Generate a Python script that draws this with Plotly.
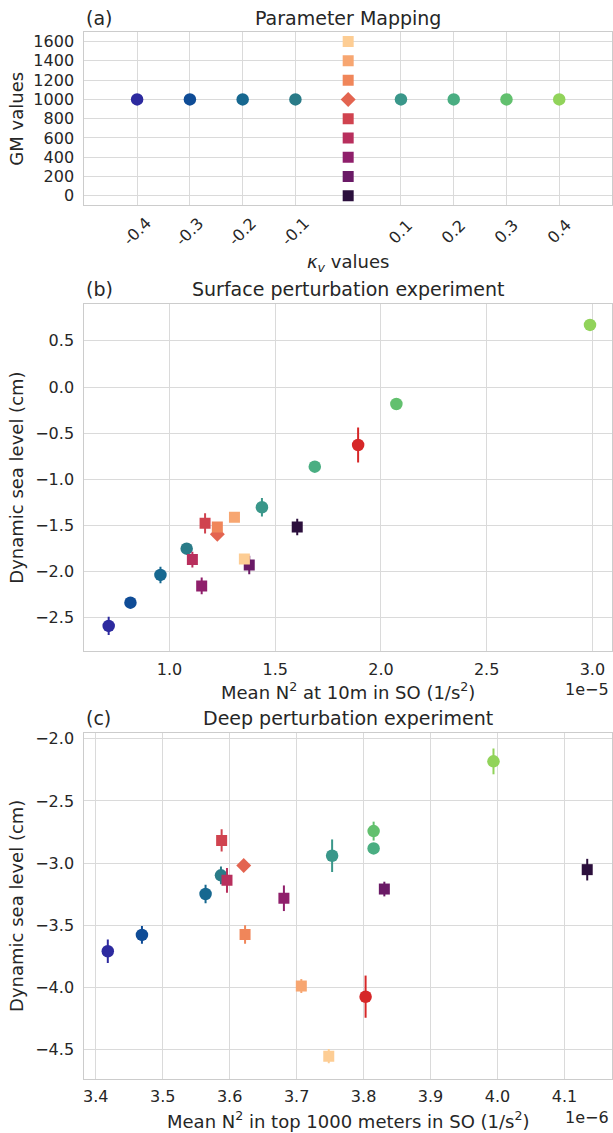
import plotly.graph_objects as go

W, H = 613, 1133

# ---------------- data ----------------
kappa_vals = [-0.4, -0.3, -0.2, -0.1, 0.1, 0.2, 0.3, 0.4]
kappa_colors = ["#2d2a9f", "#0f4c96", "#176890", "#2a7b88",
                "#3a978a", "#4aae82", "#62c06e", "#91d35a"]
gm_vals = [0, 200, 400, 600, 800, 1200, 1400, 1600]
gm_colors = ["#2b0f3c", "#6a1a66", "#8f1f6b", "#b82f5d",
             "#d0434f", "#f0865a", "#f7a671", "#fdcd94"]
control_kappa = 0.0
control_gm = 1000
control_color = "#e36450"
extra_color = "#d62728"

# panel (b) surface experiment (x in 1e-5 1/s^2, y in cm)
surf_kappa_x = [0.712, 0.815, 0.957, 1.081, 1.437, 1.687, 2.073, 2.989]
surf_kappa_y = [-2.588, -2.336, -2.036, -1.751, -1.303, -0.863, -0.184, 0.673]
surf_kappa_err = [0.10, 0.06, 0.09, 0.03, 0.10, 0.02, 0.02, 0.02]
surf_gm_x = [1.604, 1.377, 1.152, 1.108, 1.168, 1.226, 1.307, 1.354]
surf_gm_y = [-1.516, -1.928, -2.155, -1.870, -1.477, -1.516, -1.412, -1.863]
surf_gm_err = [0.09, 0.10, 0.09, 0.085, 0.11, 0.03, 0.03, 0.03]
surf_ctrl = (1.226, -1.595, 0.03)
surf_extra = (1.892, -0.628, 0.19)

# panel (c) deep experiment (x in 1e-6 1/s^2, y in cm)
deep_kappa_x = [3.418, 3.469, 3.564, 3.587, 3.753, 3.815, 3.815, 3.994]
deep_kappa_y = [-3.709, -3.578, -3.249, -3.099, -2.941, -2.882, -2.743, -2.182]
deep_kappa_err = [0.094, 0.072, 0.074, 0.071, 0.131, 0.04, 0.076, 0.104]
deep_gm_x = [4.134, 3.831, 3.681, 3.596, 3.588, 3.623, 3.707, 3.748]
deep_gm_y = [-3.053, -3.209, -3.283, -3.139, -2.818, -3.575, -3.989, -4.553]
deep_gm_err = [0.087, 0.059, 0.103, 0.10, 0.09, 0.074, 0.056, 0.057]
deep_ctrl = (3.621, -3.019, 0.03)
deep_extra = (3.803, -4.075, 0.17)

kappa_tick_labels = ["-0.4", "-0.3", "-0.2", "-0.1", "0.1", "0.2", "0.3", "0.4"]
gm_ticks = [0, 200, 400, 600, 800, 1000, 1200, 1400, 1600]
surf_xticks = [1.0, 1.5, 2.0, 2.5, 3.0]
surf_yticks = [0.5, 0.0, -0.5, -1.0, -1.5, -2.0, -2.5]
deep_xticks = [3.4, 3.5, 3.6, 3.7, 3.8, 3.9, 4.0, 4.1]
deep_yticks = [-2.0, -2.5, -3.0, -3.5, -4.0, -4.5]

# ---------------- layout helpers ----------------
TXT = "#262626"
GRID = "#dadada"
FONT = "DejaVu Sans"

def px_x(p):
    return p / W

def px_y(p):
    return 1 - p / H

X0, X1 = 83.5, 612.0
panels = {
    "a": (29.0, 203.0),
    "b": (302.0, 650.0),
    "c": (731.7, 1079.0),
}

fig = go.Figure()

CIRC = 12.5
SQ = 11
DIA = 11.5

def add_pt(x, y, color, symbol, size, axis, err=None):
    kw = dict(
        x=[x], y=[y], mode="markers",
        marker=dict(color=color, symbol=symbol, size=size, line=dict(width=0)),
        xaxis="x" + axis, yaxis="y" + axis, showlegend=False, hoverinfo="skip",
    )
    if err is not None:
        kw["error_y"] = dict(type="data", array=[err], color=color,
                             thickness=2, width=0, visible=True)
    fig.add_trace(go.Scatter(**kw))

# panel (a)
for k, c in zip(kappa_vals, kappa_colors):
    add_pt(k, control_gm, c, "circle", CIRC, "")
add_pt(control_kappa, control_gm, control_color, "diamond", DIA, "")
for g, c in zip(gm_vals, gm_colors):
    add_pt(control_kappa, g, c, "square", SQ, "")

# panel (b)
for x, y, e, c in zip(surf_kappa_x, surf_kappa_y, surf_kappa_err, kappa_colors):
    add_pt(x, y, c, "circle", CIRC, "2", e)
add_pt(surf_extra[0], surf_extra[1], extra_color, "circle", CIRC, "2", surf_extra[2])
add_pt(surf_ctrl[0], surf_ctrl[1], control_color, "diamond", DIA, "2", surf_ctrl[2])
for x, y, e, c in zip(surf_gm_x, surf_gm_y, surf_gm_err, gm_colors):
    add_pt(x, y, c, "square", SQ, "2", e)

# panel (c)
for x, y, e, c in zip(deep_kappa_x, deep_kappa_y, deep_kappa_err, kappa_colors):
    add_pt(x, y, c, "circle", CIRC, "3", e)
add_pt(deep_extra[0], deep_extra[1], extra_color, "circle", CIRC, "3", deep_extra[2])
add_pt(deep_ctrl[0], deep_ctrl[1], control_color, "diamond", DIA, "3", deep_ctrl[2])
for x, y, e, c in zip(deep_gm_x, deep_gm_y, deep_gm_err, gm_colors):
    add_pt(x, y, c, "square", SQ, "3", e)

axis_common = dict(
    showgrid=True, gridcolor=GRID, gridwidth=1.2,
    showline=True, linecolor="#cccccc", linewidth=1.2, mirror=True,
    zeroline=False, ticks="outside", ticklen=6, tickcolor="rgba(0,0,0,0)",
    tickfont=dict(family=FONT, size=16, color=TXT),
)
xaxis_common = dict(axis_common, ticklen=3)

def ydom(key):
    t, b = panels[key]
    return [px_y(b), px_y(t)]

layout = dict(
    width=W, height=H,
    margin=dict(l=0, r=0, t=0, b=0),
    paper_bgcolor="white", plot_bgcolor="white",
    font=dict(family=FONT, color=TXT),
    xaxis=dict(xaxis_common, domain=[px_x(X0), px_x(X1)], anchor="y",
               range=[-0.5, 0.5], tickvals=kappa_vals, showticklabels=False),
    yaxis=dict(axis_common, domain=ydom("a"), anchor="x",
               range=[-100, 1700], tickvals=gm_ticks,
               ticktext=[str(v) for v in gm_ticks]),
    xaxis2=dict(xaxis_common, domain=[px_x(X0), px_x(X1)], anchor="y2",
                range=[0.597, 3.093], tickvals=surf_xticks,
                ticktext=["%.1f" % v for v in surf_xticks]),
    yaxis2=dict(axis_common, domain=ydom("b"), anchor="x2",
                range=[-2.863, 0.897], tickvals=surf_yticks,
                ticktext=[("%.1f" % v).replace("-", "\u2212") for v in surf_yticks]),
    xaxis3=dict(xaxis_common, domain=[px_x(X0), px_x(X1)], anchor="y3",
                range=[3.383, 4.171], tickvals=deep_xticks,
                ticktext=["%.1f" % v for v in deep_xticks]),
    yaxis3=dict(axis_common, domain=ydom("c"), anchor="x3",
                range=[-4.738, -1.952], tickvals=deep_yticks,
                ticktext=[("%.1f" % v).replace("-", "\u2212") for v in deep_yticks]),
)
fig.update_layout(**layout)

ann = []
def text(x, y, s, size, xanchor="center", yanchor="middle", angle=0, xref="paper"):
    ann.append(dict(x=x, y=y, xref=xref, yref="paper", text=s, showarrow=False,
                    xanchor=xanchor, yanchor=yanchor, textangle=angle,
                    font=dict(family=FONT, size=size, color=TXT)))

cx = px_x((X0 + X1) / 2)
# titles
for key, yc, title in [("a", 15, "Parameter Mapping"),
                       ("b", 287, "Surface perturbation experiment"),
                       ("c", 717, "Deep perturbation experiment")]:
    text(px_x(X0), px_y(yc), "(%s)" % key, 19, xanchor="left")
    text(cx, px_y(yc), title, 19)

# rotated kappa tick labels
for v, lab in zip(kappa_vals, kappa_tick_labels):
    text(v, px_y(229.5), lab, 16, angle=-45, xref="x")

# axis labels
text(cx, px_y(261), "<i>\u03ba</i><sub><i>v</i></sub> values", 18)
text(px_x(16), px_y((29 + 203) / 2), "GM values", 18, angle=-90)
text(cx, px_y(690), "Mean N<sup>2</sup> at 10m in SO (1/s<sup>2</sup>)", 18)
text(px_x(16), px_y((302 + 650) / 2), "Dynamic sea level (cm)", 18, angle=-90)
text(cx, px_y(1120), "Mean N<sup>2</sup> in top 1000 meters in SO (1/s<sup>2</sup>)", 18)
text(px_x(16), px_y((731.7 + 1079) / 2), "Dynamic sea level (cm)", 18, angle=-90)
# offset labels
text(px_x(611), px_y(688), "1e\u22125", 16, xanchor="right")
text(px_x(611), px_y(1117), "1e\u22126", 16, xanchor="right")

fig.update_layout(annotations=ann)
fig.write_html(
    "out.html",
    config={"displayModeBar": False},
    post_script="document.body.style.margin='0';document.body.style.overflow='hidden';",
)
